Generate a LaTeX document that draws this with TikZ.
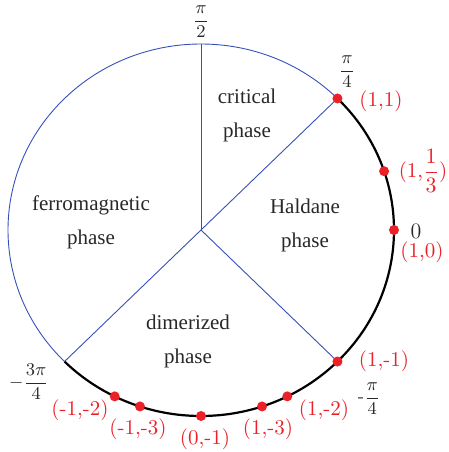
\documentclass[tikz,border=0pt]{standalone}
\usepackage{amsmath}
\usepackage{fontspec}
\newfontfamily\phasefont{Liberation Serif}
\definecolor{phblue}{RGB}{55,80,185}
\definecolor{phred}{RGB}{236,32,40}
\definecolor{phgray}{RGB}{40,40,40}
\begin{document}
\begin{tikzpicture}[x=0.5pt,y=0.5pt,
  blueline/.style={draw=phblue,line width=0.45pt},
  blackarc/.style={draw=black,line width=1.1pt},
  dotred/.style={fill=phred},
  redlab/.style={text=phred,inner sep=0pt,font=\fontsize{10.5}{12}\selectfont},
  anglab/.style={text=phgray,inner sep=0pt,font=\fontsize{9.5}{11}\selectfont},
  phaselab/.style={text=phgray,inner sep=0pt,align=center,font=\phasefont\fontsize{10.5}{17}\selectfont}]
\useasboundingbox (0,0) rectangle (449,452);
\coordinate (C) at (201,222);
\path (C) ++(90:193 and 186) coordinate (p90);
\path (C) ++(45:193 and 186) coordinate (p45);
\path (C) ++(18.435:193 and 186) coordinate (p18);
\path (C) ++(0:193 and 186) coordinate (p0);
\path (C) ++(-45:193 and 186) coordinate (pm45);
\path (C) ++(-63.435:193 and 186) coordinate (pm63);
\path (C) ++(-71.565:193 and 186) coordinate (pm71);
\path (C) ++(-90:193 and 186) coordinate (pm90);
\path (C) ++(-108.435:193 and 186) coordinate (pm108);
\path (C) ++(-116.565:193 and 186) coordinate (pm116);
\path (C) ++(-135:193 and 186) coordinate (pm135);
% arcs
\draw[blueline] (p45) arc[start angle=45,end angle=225,x radius=193,y radius=186];
\draw[blackarc] (p45) arc[start angle=45,end angle=-135,x radius=193,y radius=186];
% radial lines
\draw[blueline] (C) -- (p90);
\draw[blueline] (C) -- (p45);
\draw[blueline] (C) -- (pm45);
\draw[blueline] (C) -- (pm135);
% dots
\foreach \p in {p45,p18,p0,pm45,pm63,pm71,pm90,pm108,pm116}
  \fill[dotred] (\p) circle[radius=5];
% angle labels
\node[anglab] (a90) at (201,430) {$\dfrac{\pi}{2}$};
\node[anglab] (a45) at (347,380) {$\dfrac{\pi}{4}$};
\node[text=phgray,inner sep=0pt,font=\fontsize{11}{12}\selectfont] (a0) at (416,221) {0};
\node[anglab] (am45) at (369,53) {-$\dfrac{\pi}{4}$};
\node[anglab] (am135) at (29,70) {$-\dfrac{3\pi}{4}$};
% red labels
\node[redlab] (l11) at (381,351) {(1,1)};
\node[redlab] (l13) at (423,281) {(1,$\dfrac{1}{3}$)};
\node[redlab] (l10) at (422,200) {(1,0)};
\node[redlab] (l1m1) at (384,91) {(1,-1)};
\node[redlab] (l1m2) at (324,42) {(1,-2)};
\node[redlab] (l1m3) at (268,23) {(1,-3)};
\node[redlab] (l0m1) at (205,13) {(0,-1)};
\node[redlab] (lm1m3) at (138,23) {(-1,-3)};
\node[redlab] (lm1m2) at (80,42) {(-1,-2)};
% phase labels
\node[phaselab] (crit) at (247,337) {critical\\phase};
\node[phaselab] (ferro) at (91,230) {ferromagnetic\\phase};
\node[phaselab] (hald) at (305,227) {Haldane\\phase};
\node[phaselab] (dim) at (188,111) {dimerized\\phase};
\end{tikzpicture}
\end{document}
